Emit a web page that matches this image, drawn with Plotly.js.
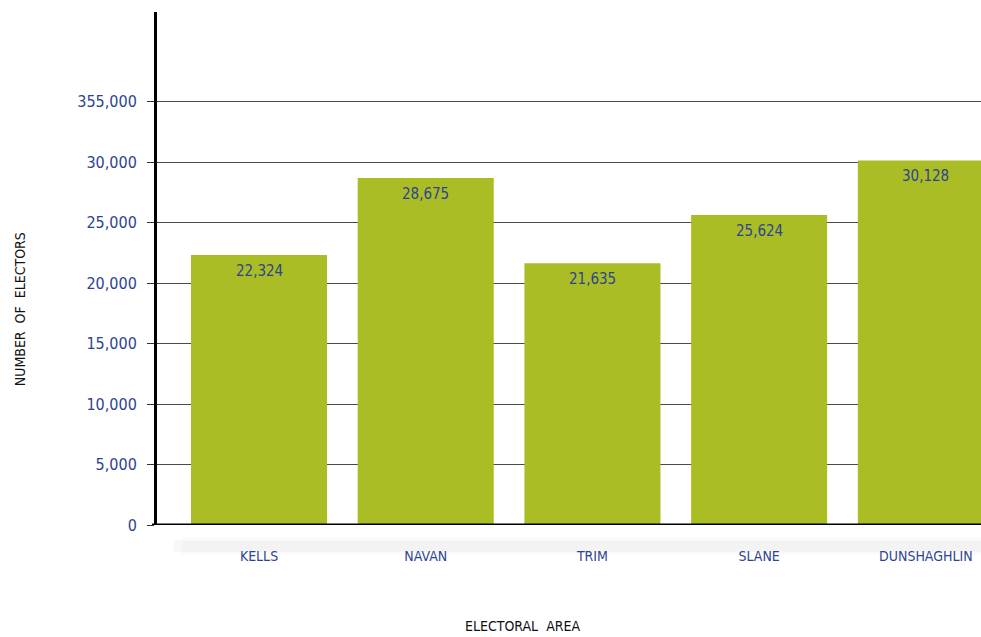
<!DOCTYPE html>
<html>
<head>
<meta charset="utf-8">
<script src="https://cdn.plot.ly/plotly-3.0.1.min.js"></script>
<style>
html,body{margin:0;padding:0;background:#fff;}
#chart{width:981px;height:637px;}
</style>
</head>
<body>
<div id="chart"></div>
<script>
const categories = ["KELLS", "NAVAN", "TRIM", "SLANE", "DUNSHAGHLIN"];
const electors = [22324, 28675, 21635, 25624, 30128];
const valueLabels = ["22,324", "28,675", "21,635", "25,624", "30,128"];
const tickValues = [0, 5000, 10000, 15000, 20000, 25000, 30000, 35000];
const tickLabels = ["0", "5,000", "10,000", "15,000", "20,000", "25,000", "30,000", "355,000"];

const FONT = '"DejaVu Sans Condensed", "Liberation Sans Narrow", sans-serif';
const BLUE = '#2C4492';
const GREEN = '#AABD25';

const trace = {
  type: 'bar',
  x: categories,
  y: electors,
  marker: {color: GREEN, line: {width: 0}},
  width: 0.816,
  hoverinfo: 'none'
};

const annotations = categories.map((c, i) => ({
  x: c, y: electors[i], xref: 'x', yref: 'y',
  text: valueLabels[i], showarrow: false,
  yanchor: 'middle', yshift: -16,
  font: {family: FONT, size: 15, color: BLUE}
}));
annotations.push({
  xref: 'paper', yref: 'paper', x: 0.443, y: -0.197,
  xanchor: 'center', yanchor: 'middle', showarrow: false,
  text: 'ELECTORAL&nbsp; AREA',
  font: {family: FONT, size: 14, color: '#111'}
});
annotations.push({
  xref: 'paper', yref: 'paper', x: -0.166, y: 0.421,
  xanchor: 'center', yanchor: 'middle', showarrow: false, textangle: -90,
  text: 'NUMBER&nbsp; OF&nbsp; ELECTORS',
  font: {family: FONT, size: 14, color: '#111'}
});

const layout = {
  width: 981, height: 637,
  margin: {l: 157, r: 0, t: 12, b: 112, pad: 0},
  paper_bgcolor: '#fff', plot_bgcolor: '#fff',
  showlegend: false,
  xaxis: {
    type: 'category',
    range: [-0.612, 4.331],
    showgrid: false, zeroline: false,
    showline: false,
    ticks: '', ticklabelstandoff: 21,
    tickfont: {family: FONT, size: 14, color: BLUE},
    fixedrange: true
  },
  yaxis: {
    range: [0, 42400],
    tickmode: 'array', tickvals: tickValues, ticktext: tickLabels,
    showgrid: true, gridcolor: '#4a4a4a', gridwidth: 1,
    zeroline: false,
    showline: true, linecolor: '#000', linewidth: 3,
    ticks: 'outside', ticklen: 7, tickcolor: '#333', tickwidth: 1,
    ticklabelstandoff: 7,
    tickfont: {family: FONT, size: 16, color: BLUE},
    fixedrange: true
  },
  shapes: [
    {type: 'rect', xref: 'paper', yref: 'paper', x0: 0.02, x1: 1, y0: -0.052, y1: -0.03,
     fillcolor: 'rgba(0,0,0,0.03)', line: {width: 0}, layer: 'below'},
    {type: 'rect', xref: 'paper', yref: 'paper', x0: 0.03, x1: 1, y0: -0.058, y1: -0.024,
     fillcolor: 'rgba(0,0,0,0.015)', line: {width: 0}, layer: 'below'},
    {type: 'line', xref: 'paper', yref: 'y', x0: -0.006, x1: 1, y0: 0, y1: 0,
     line: {color: '#000', width: 3}, layer: 'above'}
  ],
  annotations: annotations
};

Plotly.newPlot('chart', [trace], layout, {displayModeBar: false, staticPlot: true});
</script>
</body>
</html>
